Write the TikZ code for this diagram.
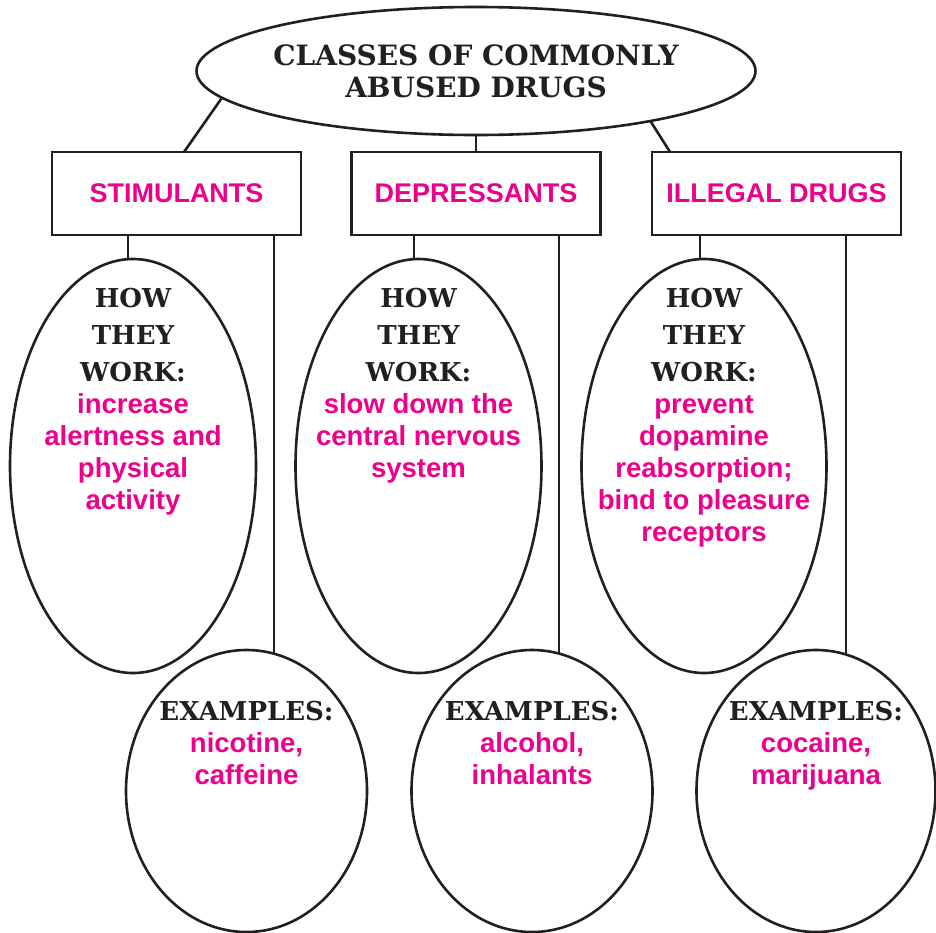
\documentclass[tikz,border=0pt]{standalone}
\usepackage{fontspec}
\setmainfont{Liberation Sans}
\newfontfamily\slab{DejaVu Serif}
\usetikzlibrary{shapes.geometric,backgrounds}
\definecolor{pk}{HTML}{EC008C}
\definecolor{ink}{HTML}{231F20}
\tikzset{
  link/.style={draw=ink, line width=2.6pt},
  oval/.style={ellipse, draw=ink, line width=2.6pt, fill=white, inner sep=0pt, outer sep=0pt},
  catbox/.style={rectangle, draw=ink, line width=2.6pt, fill=white, minimum width=249pt, minimum height=83pt, inner sep=0pt, outer sep=0pt, font=\bfseries\fontsize{27}{32}\selectfont, text=pk},
  blk/.style={font=\slab\bfseries\fontsize{26}{37}\selectfont, text=ink, inner sep=0pt, anchor=base},
  hdr/.style={font=\slab\bfseries\fontsize{28}{32}\selectfont, text=ink, inner sep=0pt, anchor=base},
  pink/.style={font=\bfseries\fontsize{27.5}{32}\selectfont, text=pk, inner sep=0pt, anchor=base},
}
\newcommand\textlines[6]{\foreach \t [count=\i] in {#6} \node[#5] (#1\i) at ({#2},{#3+#4*(\i-1)}) {\t};}
\begin{document}
\begin{tikzpicture}[x=1pt,y=-1pt]
\useasboundingbox (0,0) rectangle (936,932);
% title
\node[oval, minimum width=559pt, minimum height=128pt] (top) at (476,71) {};
\textlines{title}{476}{65}{32}{hdr}{CLASSES OF COMMONLY,ABUSED DRUGS}
% category boxes
\node[catbox] (stim) at (176.5,193.5) {STIMULANTS};
\node[catbox] (dep) at (476,193.5) {DEPRESSANTS};
\node[catbox] (ill) at (776.5,193.5) {ILLEGAL DRUGS};
% how-they-work ovals
\node[oval, minimum width=246pt, minimum height=414pt] (how1) at (133,466) {};
\node[oval, minimum width=246pt, minimum height=414pt] (how2) at (418.5,466) {};
\node[oval, minimum width=245pt, minimum height=414pt] (how3) at (704,466) {};
% examples ovals
\node[oval, minimum width=241pt, minimum height=282pt] (ex1) at (246.5,791) {};
\node[oval, minimum width=241pt, minimum height=282pt] (ex2) at (532,791) {};
\node[oval, minimum width=239pt, minimum height=282pt] (ex3) at (816,791) {};
% texts
\textlines{hA}{133}{307}{37}{blk}{HOW,THEY,WORK:}
\textlines{pA}{133}{413}{32}{pink}{increase,alertness and,physical,activity}
\textlines{hB}{418.5}{307}{37}{blk}{HOW,THEY,WORK:}
\textlines{pB}{418.5}{413}{32}{pink}{slow down the,central nervous,system}
\textlines{hC}{704}{307}{37}{blk}{HOW,THEY,WORK:}
\textlines{pC}{704}{413}{32}{pink}{prevent,dopamine,reabsorption;,bind to pleasure,receptors}
\textlines{eA}{246.5}{720}{32}{blk}{EXAMPLES:}
\textlines{qA}{246.5}{752}{32}{pink}{{nicotine,},caffeine}
\textlines{eB}{532}{720}{32}{blk}{EXAMPLES:}
\textlines{qB}{532}{752}{32}{pink}{{alcohol,},inhalants}
\textlines{eC}{816}{720}{32}{blk}{EXAMPLES:}
\textlines{qC}{816}{752}{32}{pink}{{cocaine,},marijuana}
% connectors
\begin{scope}[on background layer]
  \coordinate (a1) at (184,152);
  \coordinate (a3) at (670,152);
  \draw[link] (top.186) -- (a1);
  \draw[link] (top.south) -- (dep.north);
  \draw[link] (top.344) -- (a3);
  \coordinate (v1) at (128,0);
  \coordinate (w1) at (274,0);
  \coordinate (v2) at (414,0);
  \coordinate (w2) at (559,0);
  \coordinate (v3) at (700,0);
  \coordinate (w3) at (846,0);
  \draw[link] (stim.south -| v1) -- (v1 |- how1.center);
  \draw[link] (stim.south -| w1) -- (w1 |- ex1.center);
  \draw[link] (dep.south -| v2) -- (v2 |- how2.center);
  \draw[link] (dep.south -| w2) -- (w2 |- ex2.center);
  \draw[link] (ill.south -| v3) -- (v3 |- how3.center);
  \draw[link] (ill.south -| w3) -- (w3 |- ex3.center);
\end{scope}
\end{tikzpicture}
\end{document}
